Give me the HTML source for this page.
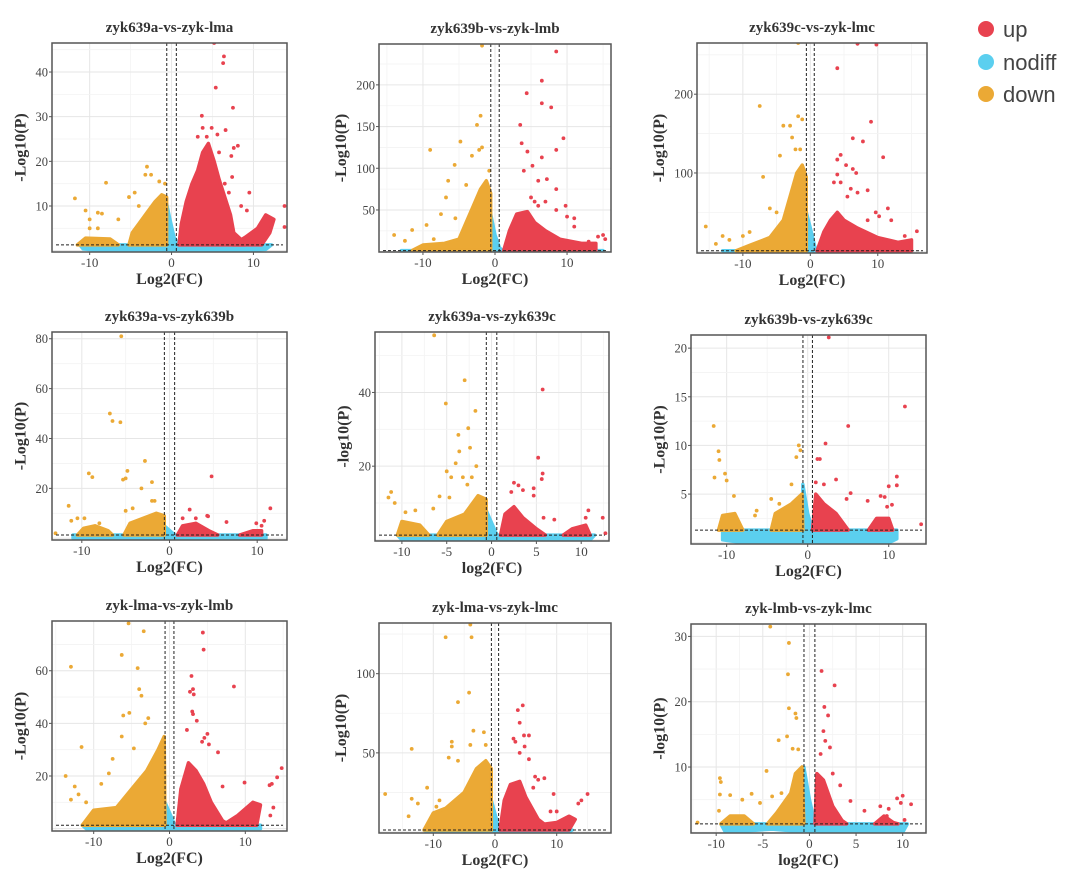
<!DOCTYPE html>
<html><head><meta charset="utf-8">
<style>
html,body{margin:0;padding:0;background:#fff;width:1080px;height:875px;overflow:hidden;}
#wrap{position:relative;width:1080px;height:875px;overflow:hidden;}
svg{position:absolute;left:0;top:0;display:block;}
</style></head>
<body>
<div id="wrap">
<svg id="fig" width="1080" height="875" viewBox="0 0 1080 875">
  <g font-family="Liberation Sans, sans-serif" font-size="22" fill="#444">
    <g><circle cx="986" cy="29" r="8" fill="#E8424F"/><text x="1003" y="37">up</text></g>
    <g><circle cx="986" cy="62" r="8" fill="#5BCFEF"/><text x="1003" y="70">nodiff</text></g>
    <g><circle cx="986" cy="94" r="8" fill="#EBA935"/><text x="1003" y="102">down</text></g>
  </g>
</svg>
</div>
<script>
// ---- data arrays ----
const titles = ["zyk639a-vs-zyk-lma","zyk639b-vs-zyk-lmb","zyk639c-vs-zyk-lmc","zyk639a-vs-zyk639b","zyk639a-vs-zyk639c","zyk639b-vs-zyk639c","zyk-lma-vs-zyk-lmb","zyk-lma-vs-zyk-lmc","zyk-lmb-vs-zyk-lmc"];
const xLabels = ["Log2(FC)","Log2(FC)","Log2(FC)","Log2(FC)","log2(FC)","Log2(FC)","Log2(FC)","Log2(FC)","log2(FC)"];
const yLabels = ["-Log10(P)","-Log10(P)","-Log10(P)","-Log10(P)","-log10(P)","-Log10(P)","-Log10(P)","-Log10(P)","-log10(P)"];
const xDomains = [[-14.6,14.1],[-16.1,16.1],[-16.8,17.3],[-13.4,13.4],[-13,13.1],[-14.4,14.6],[-15.5,15.5],[-18.8,18.8],[-12.7,12.5]];
const yDomains = [[-0.3,46.5],[-0.4,249],[-1.6,265],[-0.7,82.7],[-0.3,56.4],[-0.13,21.35],[-0.9,78.9],[-0.6,132],[-0.1,31.9]];
const xTicks = [[-10,0,10],[-10,0,10],[-10,0,10],[-10,0,10],[-10,-5,0,5,10],[-10,0,10],[-10,0,10],[-10,0,10],[-10,-5,0,5,10]];
const yTicks = [[10,20,30,40],[50,100,150,200],[100,200],[20,40,60,80],[20,40],[5,10,15,20],[20,40,60],[50,100],[10,20,30]];

const nodiffAreas = [
 [[[-11.2,1.3],[-10.8,0.4],[-8,-0.1],[0,-0.3],[8,-0.1],[11.5,0.3],[12.2,1.3]],[[-0.6,1.3],[-0.6,10.5],[-0.2,7],[0.3,3],[0.9,1.3]]],
 [[[-13,1.3],[-12,0],[14,0],[15,1.3]],[[-0.6,1.3],[-0.6,45],[0,20],[0.6,5],[1,1.3]]],
 [[[-13,1.3],[-12,-1],[14,-1],[15,1.3]],[[-0.6,1.3],[-0.6,50],[0,30],[0.8,1.3]]],
 [[[-11,1.3],[-11,0],[11,0],[11,1.3]],[[-0.6,1.3],[-0.6,5],[0.6,1.3]]],
 [[[-10.5,1.3],[-10,0],[11,0],[11.5,1.3]],[[-0.6,1.3],[-0.6,8],[0.6,1.3]]],
 [[[-10.5,1.3],[-10.5,0.3],[-8,0],[10,0],[11,0.4],[11,1.3]],[[-0.6,1.3],[-0.6,6],[0,3],[0.6,1.3]]],
 [[[-11.5,1.3],[-11,0],[12,0],[12,1.3]],[[-0.6,1.3],[-0.6,10],[0.7,1.3]]],
 [[[-11.5,1.3],[-11,0],[12,0],[12.5,1.3]],[[-0.6,1.3],[-0.6,20],[0.7,1.3]]],
 [[[-9.5,1.3],[-9,0],[-4,0.5],[0,0],[10,0],[10.5,1.3]],[[-0.6,1.3],[-0.6,10],[0,5],[0.6,1.3]]]
];
const downAreas = [
 [[[-5.2,1.3],[-4.8,4],[-4,6],[-3,8.5],[-2,11],[-1.2,12.5],[-0.6,12],[-0.6,1.3]],[[-11.5,1.3],[-10.5,2.8],[-7.5,2.6],[-6.5,1.3]]],
 [[[-11.5,1.3],[-10,8],[-7,10],[-5,15],[-4,35],[-3,55],[-2,75],[-1.2,85],[-0.6,70],[-0.6,1.3]]],
 [[[-11,1.3],[-9,8],[-6,18],[-4,40],[-3,70],[-2,100],[-1.2,110],[-0.6,95],[-0.6,1.3]]],
 [[[-10.5,1.3],[-9.8,4],[-8.5,5],[-7,3],[-6.5,1.3]],[[-5.2,1.3],[-4.5,6],[-3,8],[-1.5,10],[-0.6,9],[-0.6,1.3]]],
 [[[-10.5,1.3],[-10,5],[-8,4],[-7,1.3]],[[-6,1.3],[-5,5],[-3,7],[-1.5,12],[-0.6,11],[-0.6,1.3]]],
 [[[-11,1.3],[-10.5,2.8],[-9,3],[-8,1.3]],[[-4.5,1.3],[-4,3],[-2,4],[-0.7,5],[-0.6,1.3]]],
 [[[-11.5,1.3],[-10,7],[-7,8],[-5,15],[-3,22],[-1.5,30],[-0.7,35],[-0.6,1.3]]],
 [[[-11.5,1.3],[-10,12],[-8,15],[-5,25],[-3,40],[-1.5,45],[-0.6,40],[-0.6,1.3]]],
 [[[-9.5,1.3],[-8.5,2.5],[-7,2.5],[-6,1.3]],[[-4.5,1.3],[-3.5,3],[-2,6],[-1.5,9],[-0.8,10],[-0.6,1.3]]]
];
const upAreas = [
 [[[0.9,1.3],[1.2,6],[1.8,11],[2.5,15],[3.2,18],[3.8,22],[4.5,24],[5.2,20],[5.8,16],[6.5,12],[7.2,8],[7.6,4],[8.5,2.5],[9,1.3]],[[7.5,1.3],[9,3],[10.5,5],[11.5,8],[12.5,7],[12,4],[11,1.3]]],
 [[[1.2,1.3],[2,25],[3,45],[4.5,48],[5.5,35],[7,25],[9,15],[12,10],[14,10],[14,1.3]]],
 [[[1,1.3],[2,25],[3,40],[4,50],[5,40],[7,30],[10,18],[13,12],[15,15],[15,1.3]]],
 [[[0.9,1.3],[1.5,5],[3,6],[4.5,3],[5.5,1.3]],[[8,1.3],[9.5,3],[10.5,3],[10.5,1.3]]],
 [[[1,1.3],[1.5,7],[2.5,9],[3.5,6],[5,3],[6,1.3]],[[8,1.3],[9,3],[10.5,4],[11,1.3]]],
 [[[0.6,1.3],[1,5],[2,4],[3.5,3],[5,1.3]],[[7.5,1.3],[8.5,2.5],[10,2.5],[10.5,1.3]]],
 [[[1,1.3],[1.5,15],[2.5,25],[3.5,22],[4.5,17],[5.5,10],[7,3],[8,1.3]],[[7,1.3],[9,5],[11,10],[12,9],[11.5,1.3]]],
 [[[0.8,1.3],[1.5,20],[2.5,30],[4,32],[5,22],[7,8],[8,5],[10,6],[12,10],[13,8],[12,1.3]]],
 [[[0.6,1.3],[0.8,9],[1.5,8],[2.5,4],[3.5,1.8],[4,1.3]],[[7,1.3],[8,2.5],[9,1.5],[9.5,1.3]]]
];
const downPoints = [
 [[-11.8,11.7],[-8,15.2],[-10.5,9],[-9,8.5],[-8.5,8.3],[-10,7],[-6.5,7],[-5.2,12],[-4.5,13],[-3,18.8],[-3.2,17],[-2.5,17],[-1.5,15.5],[-0.8,15],[-10,5],[-9,5],[-4,10]],
 [[-1.8,247],[-2,163],[-2.5,152],[-4.8,132],[-1.8,125],[-2.2,122],[-9,122],[-3.2,115],[-5.6,104],[-6.5,85],[-0.8,97],[-4,80],[-6.8,65],[-7.5,45],[-5.5,40],[-9.5,32],[-11.5,26],[-14,20],[-12.5,13],[-8.5,15]],
 [[-1.8,265],[-7.5,185],[-1.8,172],[-1.2,168],[-3,160],[-2.7,145],[-4,160],[-4.5,122],[-7,95],[-15.5,32],[-13,20],[-14,10],[-12,15],[-9,25],[-10,20],[-5,50],[-6,55],[-2.2,130],[-1.5,130]],
 [[-5.5,81],[-6.8,50],[-6.5,47],[-5.6,46.5],[-2.8,31],[-9.2,26],[-8.8,24.5],[-4.8,27],[-5,24],[-5.3,23.5],[-2,22.5],[-3.2,20],[-11.5,13],[-2,15],[-1.7,15],[-4.2,12],[-11.2,7],[-10.5,8],[-9.7,8],[-13,2],[-5,11],[-8,6]],
 [[-6.4,55.5],[-3,43.3],[-5.1,37],[-1.8,35],[-2.6,30.3],[-3.7,28.5],[-3.6,24],[-2.4,25],[-4,20.8],[-1.7,20],[-5,18.6],[-4.5,17],[-3.2,17],[-2.2,17],[-2.7,15],[-11.2,13],[-11.5,11.5],[-10.8,10],[-5.8,11.8],[-4.7,11.5],[-8.5,8],[-6.5,8.5],[-9.6,7.5]],
 [[-11.6,12],[-11,9.4],[-10.9,8.5],[-10.2,7.1],[-10,6.4],[-11.5,6.7],[-9.1,4.8],[-6.3,3.3],[-1.1,10],[-0.9,9.5],[-1.4,8.8],[-2,6],[-4.5,4.5],[-3.5,4],[-6.5,2.8]],
 [[-5.4,78],[-3.4,75],[-6.3,66],[-13,61.5],[-4.2,61],[-4,53],[-3.7,50.5],[-5.3,44],[-6.1,43],[-2.8,42],[-3.2,40],[-11.6,31],[-6.3,35],[-4.7,30.5],[-13.7,20],[-12.5,16],[-7.5,26.5],[-9,17],[-11,10],[-12,13],[-13,11],[-8,21]],
 [[-4,131],[-8,123],[-3.8,123],[-4.2,88],[-6,82],[-3.5,64],[-1.8,63],[-7,57],[-7,54],[-13.5,52.5],[-1.5,55],[-7.5,47],[-6,45],[-11,28],[-17.8,24],[-13.5,21],[-12.5,18],[-14,10],[-9,20],[-9.5,16],[-4,55]],
 [[-4.2,31.5],[-2.2,29],[-2.3,24.2],[-2.2,19],[-1.5,18.2],[-1.4,17.5],[-3.3,14.1],[-2.4,14.7],[-1.8,12.8],[-1.2,12.7],[-4.6,9.4],[-9.6,8.3],[-9.5,7.7],[-9.6,5.8],[-8.5,5.7],[-6.2,5.9],[-7.2,5],[-5.3,4.5],[-4,5.5],[-9.7,3.3],[-12,1.5],[-3,6]]
];
const upPoints = [
 [[5.2,46.5],[6.4,43.5],[6.3,42],[5.4,36.5],[7.5,32],[3.7,30.2],[3.8,27.5],[4.9,27.5],[6.6,27],[3.2,25.5],[4.3,25.5],[5.6,26],[8.1,23.5],[7.6,23],[4.6,21.5],[5.8,22],[7.3,21.2],[7.4,16.5],[9.5,13],[8.5,10],[9.2,9],[13.8,10],[13.8,5.3],[6.5,15],[7,13]],
 [[8.5,240],[6.5,205],[4.4,190],[6.5,178],[7.8,173],[3.5,152],[9.5,136],[3.7,130],[8.5,122],[4.5,120],[6.5,113],[5.2,103],[4,97],[6,85],[7.2,87],[8.5,75],[5,65],[7,60],[9.8,55],[8.5,50],[10,42],[11,40],[11,30],[15,20],[15.3,15],[14.3,18],[13,12],[6,55],[5.5,60]],
 [[7,264],[9.8,263],[4,233],[9,165],[6.3,144],[7.8,140],[10.8,120],[4.5,123],[4,117],[5.3,110],[6.3,105],[6.8,100],[4,98],[3.5,88],[4.5,88],[6,80],[7,75],[8.5,78],[5.5,70],[11.5,55],[10.2,45],[9.7,50],[12,40],[15.8,26],[14,20],[8.5,40]],
 [[4.8,24.8],[11.5,12],[2.3,11.5],[4.3,9],[4.4,8.8],[10.8,7],[9.9,6],[6.5,6.5],[10.5,5],[3,8],[1.5,8]],
 [[5.7,40.8],[5.2,22.3],[5.7,18],[5.6,16.5],[2.5,15.5],[3,14.8],[4.7,14],[2.2,13],[4.7,12],[3.5,13.5],[10.8,8],[12.4,6],[10.5,6],[7,5.5],[12.7,1.8],[5.8,6]],
 [[2.6,21.1],[12,14],[5,12],[2.2,10.2],[1.2,8.6],[1.5,8.6],[11,6.8],[3.5,6.5],[10,5.8],[11,5.9],[5.3,5.1],[4.8,4.5],[9,4.8],[9.5,4.7],[7.4,4.3],[10.4,3.9],[9.8,3.7],[14,1.9],[2,6],[1,6.2]],
 [[4.4,74.5],[4.5,68],[2.9,58],[8.5,54],[3.1,53],[2.7,52],[3.2,51],[3,44.5],[3.1,43.5],[3.6,41],[5,36],[2.3,37.5],[4.6,34.5],[4.3,33],[5.2,32],[6.4,29],[14.8,23],[14.2,19.5],[13.5,17],[13.2,16.5],[13.7,8],[13.3,5],[9.9,17.5],[7,16]],
 [[4.5,80],[3.7,77],[4,69],[3,59],[4.7,61],[5.5,61],[3.3,57],[4.8,54],[4,50],[5.5,46],[6.5,35],[7,33],[8,34],[6.2,28],[9.5,24],[15,24],[14,20],[13.5,18],[9,13],[10,13]],
 [[1.3,24.7],[2.7,22.5],[1.6,19.2],[2,17.9],[1.5,15.5],[1.7,14],[2.2,13],[1.2,12],[2.5,9],[3.3,7.2],[4.4,4.8],[10,5.6],[9.4,5.2],[10.9,4.3],[9.8,4.5],[5.9,3.3],[7.6,4],[8.5,3.6],[8.3,2.5],[10.2,1.9]]
];
const fcCut = 0.585;
const pCut = 1.3;

// ---- layout (pixel boxes: left, top, right, bottom) ----
const boxes = [[52,43,287,252],[379,44,611,252],[697,43,927,253],[52,332,287,540],[375,332,609,541],[691,335,926,544],[52,621,287,831],[379,623,611,833],[691,624,926,833]];
const COL = {up:"#E8424F", nodiff:"#5BCFEF", down:"#EBA935"};
const NS = "http://www.w3.org/2000/svg";
const svg = document.getElementById("fig");
function mk(tag, attrs, parent){const e=document.createElementNS(NS,tag);for(const k in attrs)e.setAttribute(k,attrs[k]);(parent||svg).appendChild(e);return e;}

boxes.forEach((b,i)=>{
  const [L,T,R,B]=b, xd=xDomains[i], yd=yDomains[i];
  const sx=v=>L+(v-xd[0])/(xd[1]-xd[0])*(R-L);
  const sy=v=>B-(v-yd[0])/(yd[1]-yd[0])*(B-T);
  const g=mk("g",{});
  
  
  const clipId="c"+i;
  const cp=mk("clipPath",{id:clipId},g); mk("rect",{x:L,y:T,width:R-L,height:B-T},cp);
  const bg=mk("rect",{x:L,y:T,width:R-L,height:B-T,fill:"#fff"},g);
  
  
  const xt=xTicks[i], yt=yTicks[i];
  const xs=xt[1]-xt[0], ys=yt.length>1?yt[1]-yt[0]:yt[0];
  const gg=mk("g",{"clip-path":"url(#"+clipId+")"},g);
  
  
  for(let v=Math.floor(xd[0]/xs)*xs-xs/2; v<=xd[1]; v+=xs/2){
    const major=Math.abs((v/xs)-Math.round(v/xs))<1e-6;
    mk("line",{x1:sx(v),x2:sx(v),y1:T,y2:B,stroke:major?"#e6e6e6":"#f3f3f3","stroke-width":major?1:0.8},gg);
  }
  for(let v=Math.floor(yd[0]/ys)*ys-ys/2; v<=yd[1]; v+=ys/2){
    const major=Math.abs((v/ys)-Math.round(v/ys))<1e-6;
    mk("line",{x1:L,x2:R,y1:sy(v),y2:sy(v),stroke:major?"#e6e6e6":"#f3f3f3","stroke-width":major?1:0.8},gg);
  }
  const dg=mk("g",{"clip-path":"url(#"+clipId+")"},g);
  
  
  const poly=(pts,c,name)=>{
    const p=mk("polygon",{points:pts.map(q=>sx(q[0])+","+sy(q[1])).join(" "),fill:c,stroke:c,"stroke-width":3.5,"stroke-linejoin":"round"},dg);
    
    
  };
  nodiffAreas[i].forEach(a=>poly(a,COL.nodiff,'nodiff-cloud'));
  downAreas[i].forEach(a=>poly(a,COL.down,'down-cloud'));
  upAreas[i].forEach(a=>poly(a,COL.up,'up-cloud'));
  downPoints[i].forEach(p=>{const c=mk("circle",{cx:sx(p[0]),cy:sy(p[1]),r:1.9,fill:COL.down},dg);
    
    });
  upPoints[i].forEach(p=>{const c=mk("circle",{cx:sx(p[0]),cy:sy(p[1]),r:1.9,fill:COL.up},dg);
    
    });
  [-fcCut,fcCut].forEach(v=>{const l=mk("line",{x1:sx(v),x2:sx(v),y1:T,y2:B,stroke:"#222","stroke-width":1,"stroke-dasharray":"3,2"},g);
    
    });
  const hl=mk("line",{x1:L+4,x2:R-4,y1:sy(pCut),y2:sy(pCut),stroke:"#222","stroke-width":1,"stroke-dasharray":"3,2"},g);
  
  
  const br=mk("rect",{x:L,y:T,width:R-L,height:B-T,fill:"none",stroke:"#555","stroke-width":1.5},g);
  
  
  xt.forEach(v=>{
    mk("line",{x1:sx(v),x2:sx(v),y1:B,y2:B+3,stroke:"#555"},g);
    const t=mk("text",{x:sx(v),y:B+15,"text-anchor":"middle","font-family":"Liberation Serif, serif","font-size":13,fill:"#444"},g);
    t.textContent=v;
    
    
  });
  yt.forEach(v=>{
    mk("line",{x1:L-3,x2:L,y1:sy(v),y2:sy(v),stroke:"#555"},g);
    const t=mk("text",{x:L-4,y:sy(v)+4.5,"text-anchor":"end","font-family":"Liberation Serif, serif","font-size":12.5,fill:"#444"},g);
    t.textContent=v;
    
    
  });
  const ti=mk("text",{x:(L+R)/2,y:T-11,"text-anchor":"middle","font-family":"Liberation Serif, serif","font-size":15,"font-weight":"bold",fill:"#333"},g);
  ti.textContent=titles[i];
  
  
  const xl=mk("text",{x:(L+R)/2,y:B+32,"text-anchor":"middle","font-family":"Liberation Serif, serif","font-size":16,"font-weight":"bold",fill:"#333"},g);
  xl.textContent=xLabels[i];
  
  
  const maxLen=Math.max(...yt.map(v=>String(v).length));
  const yx=L-14-maxLen*6.3, yy=(T+B)/2;
  const yl=mk("text",{x:yx,y:yy,"text-anchor":"middle","font-family":"Liberation Serif, serif","font-size":16,"font-weight":"bold",fill:"#333",transform:"rotate(-90 "+yx+" "+yy+")"},g);
  yl.textContent=yLabels[i];
  
  
});
</script>
</body></html>
